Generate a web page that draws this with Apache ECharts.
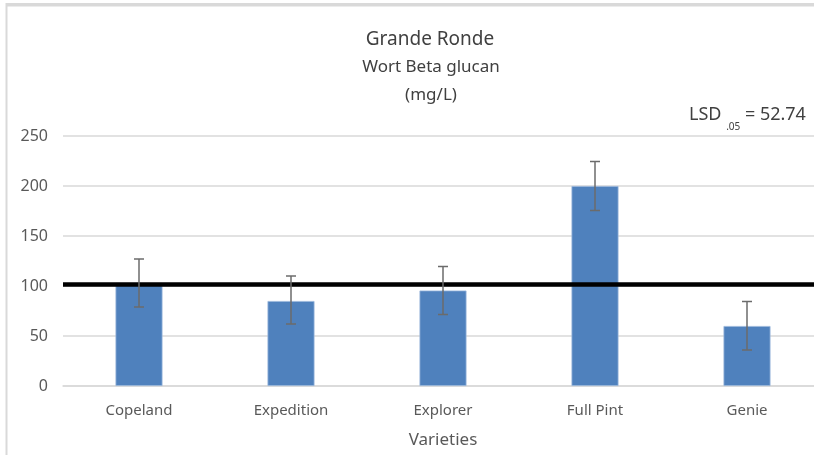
<!DOCTYPE html>
<html>
<head>
<meta charset="utf-8">
<title>Grande Ronde - Wort Beta glucan</title>
<script src="https://cdn.jsdelivr.net/npm/echarts@6/dist/echarts.min.js"></script>
<style>
  html, body { margin: 0; padding: 0; background: #fff; }
  #chart { width: 814px; height: 455px; }
</style>
</head>
<body>
<div id="chart"></div>
<script>
// data
const varieties = ['Copeland', 'Expedition', 'Explorer', 'Full Pint', 'Genie']
const betaGlucan = [103, 85, 95.5, 200, 60]
const errHigh = [127, 110, 119.5, 224.5, 84.5]
const errLow = [79, 62, 71.5, 175.5, 36]
const lsdLine = [101.4]
const yTicks = [0, 50, 100, 150, 200, 250]

const font = '"Noto Sans", "DejaVu Sans", sans-serif'
const labelColor = '#595959'
const titleColor = '#404040'
const frameColor = '#d9d9d9'

const chart = echarts.init(document.getElementById('chart'))

const option = {
  animation: false,
  textStyle: { fontFamily: font },
  title: [
    {
      text: 'Grande Ronde',
      left: 425, top: 25, textAlign: 'center',
      textStyle: { fontFamily: font, fontSize: 19, fontWeight: 'normal', color: titleColor }
    },
    {
      text: 'Wort Beta glucan',
      left: 426, top: 54, textAlign: 'center',
      textStyle: { fontFamily: font, fontSize: 17, fontWeight: 'normal', color: titleColor }
    },
    {
      text: '(mg/L)',
      left: 426, top: 82, textAlign: 'center',
      textStyle: { fontFamily: font, fontSize: 17, fontWeight: 'normal', color: titleColor }
    },
    {
      // LSD label with a subscript .05
      text: '{a|LSD }{b|.05}{a| = 52.74}',
      left: 689, top: 106, padding: 0,
      textStyle: {
        fontWeight: 'normal',
        rich: {
          a: { fontFamily: font, fontSize: 18, fontWeight: 'normal', color: titleColor, lineHeight: 20, verticalAlign: 'top' },
          b: { fontFamily: font, fontSize: 10, fontWeight: 'normal', color: titleColor, lineHeight: 10, verticalAlign: 'top', padding: [16, 0, 0, 0] }
        }
      }
    }
  ],
  graphic: [
    // thin grey frame on the top and left edge of the picture
    { type: 'rect', shape: { x: 7, y: 3, width: 820, height: 3.5 }, style: { fill: frameColor }, silent: true },
    { type: 'rect', shape: { x: 5.5, y: 3, width: 2, height: 460 }, style: { fill: frameColor }, silent: true }
  ],
  grid: { left: 63, top: 136, width: 760, height: 250, outerBoundsMode: 'none', containLabel: false },
  xAxis: {
    type: 'category',
    data: varieties,
    name: 'Varieties',
    nameLocation: 'middle',
    nameGap: 46,
    nameTextStyle: { fontFamily: font, fontSize: 17, color: labelColor },
    axisLine: { lineStyle: { color: frameColor, width: 1.5 } },
    axisTick: { show: false },
    axisLabel: { fontFamily: font, fontSize: 15, color: labelColor, margin: 17 }
  },
  yAxis: {
    type: 'value',
    min: yTicks[0],
    max: yTicks[yTicks.length - 1],
    interval: 50,
    axisLine: { show: false },
    axisTick: { show: false },
    axisLabel: { fontFamily: font, fontSize: 16, color: labelColor, margin: 15 },
    splitLine: { lineStyle: { color: frameColor, width: 1.5 } }
  },
  series: [
    {
      name: 'Beta glucan',
      type: 'bar',
      data: betaGlucan,
      barWidth: 47,
      itemStyle: { color: '#4f81bd', borderColor: '#9bb7dc', borderWidth: 0.8 },
      markLine: {
        silent: true,
        symbol: 'none',
        label: { show: false },
        lineStyle: { color: '#000', width: 4.5, type: 'solid' },
        data: [{ yAxis: lsdLine[0] }],
        z: 5
      }
    },
    {
      name: 'error',
      type: 'custom',
      data: varieties.map((v, i) => [i, errLow[i], errHigh[i]]),
      z: 10,
      renderItem: (params, api) => {
        const lo = api.coord([api.value(0), api.value(1)])
        const hi = api.coord([api.value(0), api.value(2)])
        const half = 5
        const style = { stroke: '#6b6b6b', lineWidth: 1.5 }
        return {
          type: 'group',
          children: [
            { type: 'line', shape: { x1: hi[0], y1: hi[1], x2: lo[0], y2: lo[1] }, style },
            { type: 'line', shape: { x1: hi[0] - half, y1: hi[1], x2: hi[0] + half, y2: hi[1] }, style },
            { type: 'line', shape: { x1: lo[0] - half, y1: lo[1], x2: lo[0] + half, y2: lo[1] }, style }
          ]
        }
      }
    }
  ]
}

chart.setOption(option)
window.addEventListener('resize', () => chart.resize())
</script>
</body>
</html>
